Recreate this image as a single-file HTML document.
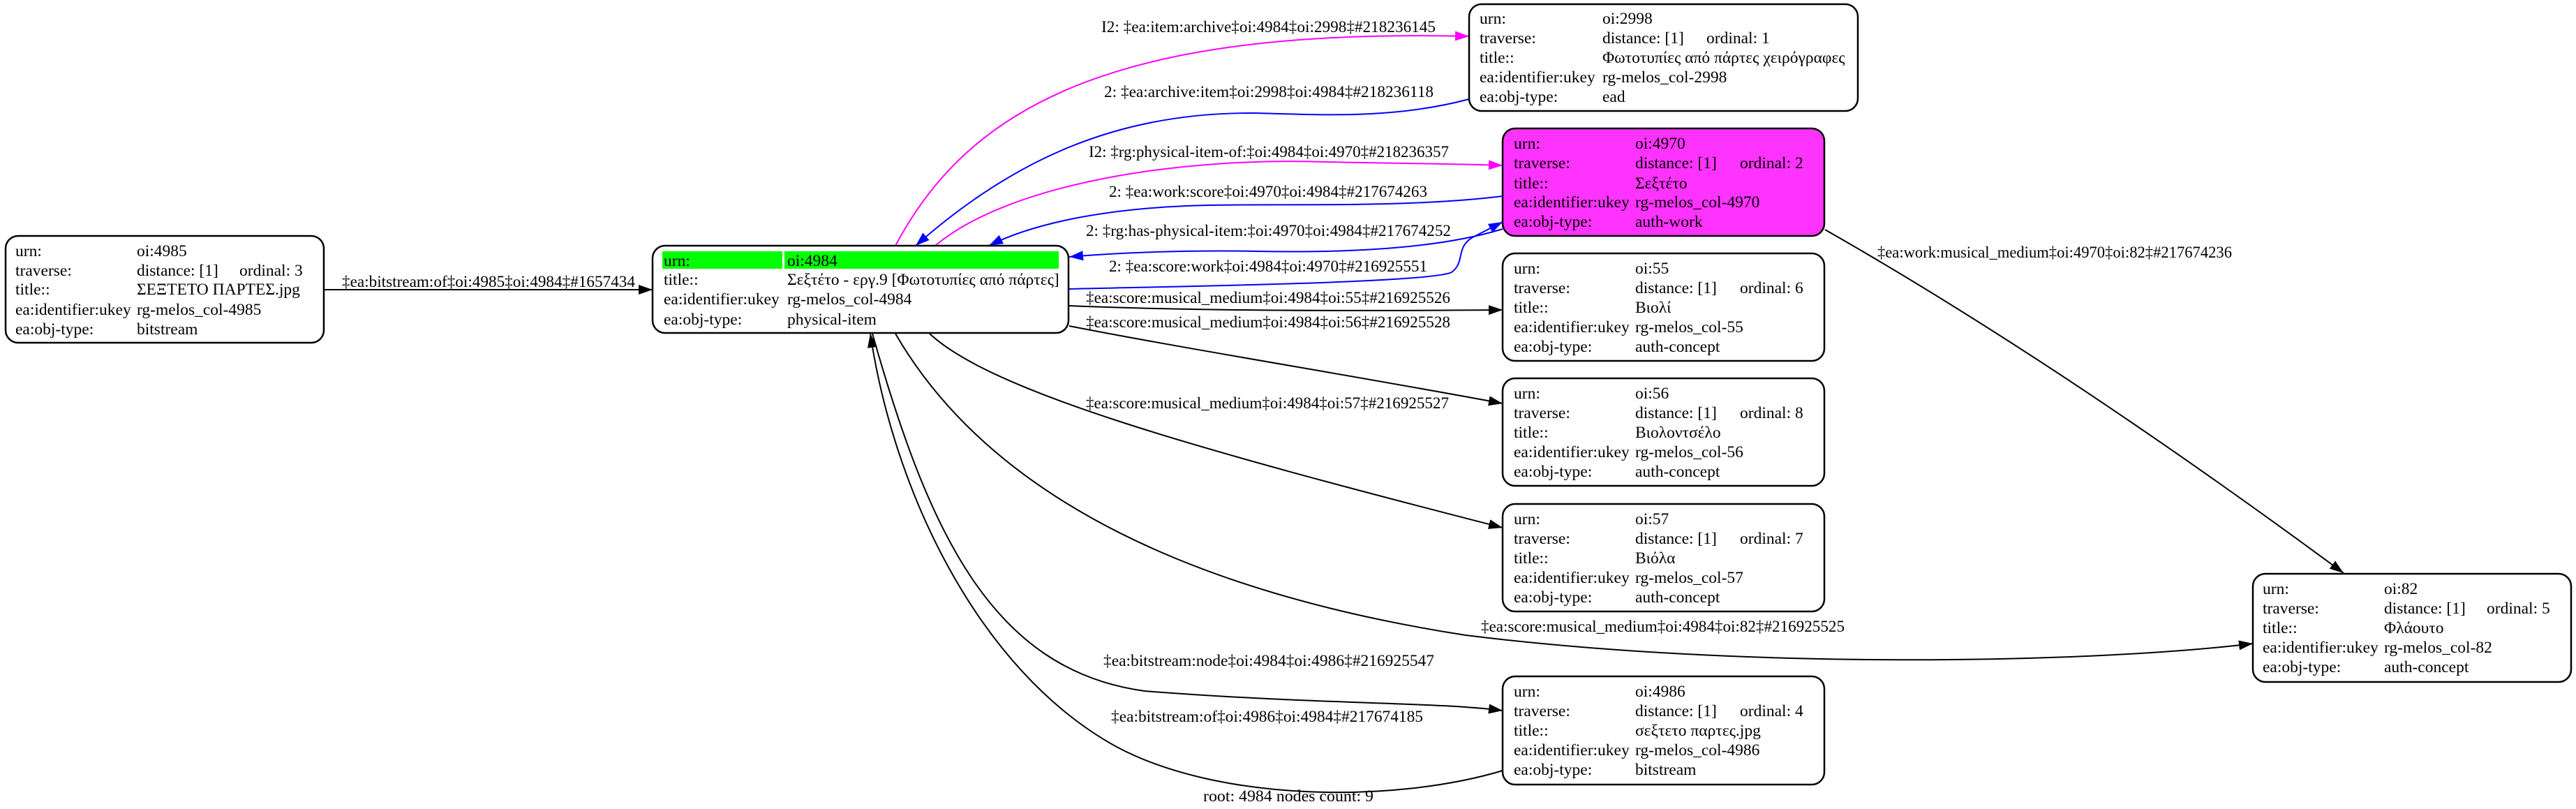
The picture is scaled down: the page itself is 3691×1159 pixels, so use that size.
<!DOCTYPE html>
<html><head><meta charset="utf-8"><style>
html,body{margin:0;padding:0;background:#fff;}
svg{display:block;}
text{font-family:"Liberation Serif","DejaVu Serif",serif;font-size:23.5px;fill:#000;}
.b{fill:#fff;stroke:#000;stroke-width:2.5;}
.e{fill:none;stroke:#000;stroke-width:2;}
.m{fill:none;stroke:#ff00ff;stroke-width:2;}
.u{fill:none;stroke:#0000ff;stroke-width:2;}
</style></head><body>
<svg width="3691" height="1159" viewBox="0 0 3691 1159" xmlns="http://www.w3.org/2000/svg">
<defs>
<marker id="ak" markerUnits="userSpaceOnUse" markerWidth="22" markerHeight="16" refX="20" refY="7" orient="auto"><path d="M0,0 L20,7 L0,14 Z" fill="#000"/></marker>
<marker id="am" markerUnits="userSpaceOnUse" markerWidth="22" markerHeight="16" refX="20" refY="7" orient="auto"><path d="M0,0 L20,7 L0,14 Z" fill="#ff00ff"/></marker>
<marker id="au" markerUnits="userSpaceOnUse" markerWidth="22" markerHeight="16" refX="20" refY="7" orient="auto"><path d="M0,0 L20,7 L0,14 Z" fill="#0000ff"/></marker>
</defs>

<!-- edges -->
<path class="e" d="M464,415 L935,415" marker-end="url(#ak)"/>
<path class="m" d="M1283,352 C1390,150 1600,40 2105,52" marker-end="url(#am)"/>
<path class="u" d="M2105,142 C2000,170 1900,165 1800,162 C1600,160 1450,230 1312,352" marker-end="url(#au)"/>
<path class="m" d="M1340,352 C1450,260 1700,225 1900,232 C2000,234 2100,235 2153,237" marker-end="url(#am)"/>
<path class="u" d="M2153,281 C2000,300 1800,290 1700,295 C1580,300 1480,320 1417,352" marker-end="url(#au)"/>
<path class="u" d="M2153,328 C2050,360 1900,362 1800,360 C1700,358 1600,362 1532,368" marker-end="url(#au)"/>
<path class="u" d="M1532,414 C1700,410 2050,405 2080,390 C2100,375 2085,355 2110,340 L2153,318" marker-end="url(#au)"/>
<path class="e" d="M1532,438 C1700,445 1900,446 2153,444" marker-end="url(#ak)"/>
<path class="e" d="M1532,467 C1700,500 1950,540 2153,578" marker-end="url(#ak)"/>
<path class="e" d="M1332,478 C1420,560 1700,640 2153,756" marker-end="url(#ak)"/>
<path class="e" d="M1283,478 C1400,680 1650,840 2100,910 C2500,960 3000,950 3228,922" marker-end="url(#ak)"/>
<path class="e" d="M1250,478 C1330,760 1420,960 1640,990 C1900,1010 2050,1005 2153,1018" marker-end="url(#ak)"/>
<path class="e" d="M2153,1104 C2000,1150 1750,1150 1600,1070 C1400,960 1280,700 1247,478" marker-end="url(#ak)"/>
<path class="e" d="M2615,329 Q2950,520 3358,821" marker-end="url(#ak)"/>

<!-- edge labels -->
<text x="490" y="411" textLength="420" lengthAdjust="spacingAndGlyphs">‡ea:bitstream:of‡oi:4985‡oi:4984‡#1657434</text>
<text x="1578" y="46" textLength="479" lengthAdjust="spacingAndGlyphs">I2: ‡ea:item:archive‡oi:4984‡oi:2998‡#218236145</text>
<text x="1582" y="139" textLength="472" lengthAdjust="spacingAndGlyphs">2: ‡ea:archive:item‡oi:2998‡oi:4984‡#218236118</text>
<text x="1560" y="225" textLength="516" lengthAdjust="spacingAndGlyphs">I2: ‡rg:physical-item-of:‡oi:4984‡oi:4970‡#218236357</text>
<text x="1589" y="282" textLength="456" lengthAdjust="spacingAndGlyphs">2: ‡ea:work:score‡oi:4970‡oi:4984‡#217674263</text>
<text x="1556" y="338" textLength="523" lengthAdjust="spacingAndGlyphs">2: ‡rg:has-physical-item:‡oi:4970‡oi:4984‡#217674252</text>
<text x="1589" y="389" textLength="456" lengthAdjust="spacingAndGlyphs">2: ‡ea:score:work‡oi:4984‡oi:4970‡#216925551</text>
<text x="1556" y="434" textLength="522" lengthAdjust="spacingAndGlyphs">‡ea:score:musical_medium‡oi:4984‡oi:55‡#216925526</text>
<text x="1556" y="469" textLength="522" lengthAdjust="spacingAndGlyphs">‡ea:score:musical_medium‡oi:4984‡oi:56‡#216925528</text>
<text x="1556" y="585" textLength="520" lengthAdjust="spacingAndGlyphs">‡ea:score:musical_medium‡oi:4984‡oi:57‡#216925527</text>
<text x="2122" y="905" textLength="521" lengthAdjust="spacingAndGlyphs">‡ea:score:musical_medium‡oi:4984‡oi:82‡#216925525</text>
<text x="1581" y="954" textLength="474" lengthAdjust="spacingAndGlyphs">‡ea:bitstream:node‡oi:4984‡oi:4986‡#216925547</text>
<text x="1592" y="1034" textLength="447" lengthAdjust="spacingAndGlyphs">‡ea:bitstream:of‡oi:4986‡oi:4984‡#217674185</text>
<text x="2690" y="369" textLength="508" lengthAdjust="spacingAndGlyphs">‡ea:work:musical_medium‡oi:4970‡oi:82‡#217674236</text>
<text x="1724" y="1148" textLength="244" lengthAdjust="spacingAndGlyphs">root: 4984 nodes count: 9</text>

<!-- node 4985 -->
<g transform="translate(8,338)">
<rect class="b" x="0" y="0" width="456" height="153" rx="18"/>
<text x="14" y="29">urn:</text><text x="188" y="29">oi:4985</text>
<text x="14" y="57">traverse:</text><text x="188" y="57">distance: [1]</text><text x="335" y="57">ordinal: 3</text>
<text x="14" y="84">title::</text><text x="188" y="84">ΣΕΞΤΕΤΟ ΠΑΡΤΕΣ.jpg</text>
<text x="14" y="113">ea:identifier:ukey</text><text x="188" y="113">rg-melos_col-4985</text>
<text x="14" y="141">ea:obj-type:</text><text x="188" y="141">bitstream</text>
</g>

<!-- node 4984 -->
<g transform="translate(935,352)">
<rect class="b" x="0" y="0" width="596" height="125" rx="18"/>
<rect x="14" y="8" width="172" height="25" fill="#00ff00"/>
<rect x="189" y="8" width="393" height="25" fill="#00ff00"/>
<text x="16" y="29">urn:</text><text x="193" y="29">oi:4984</text>
<text x="16" y="56">title::</text><text x="193" y="56">Σεξτέτο - εργ.9 [Φωτοτυπίες από πάρτες]</text>
<text x="16" y="84">ea:identifier:ukey</text><text x="193" y="84">rg-melos_col-4984</text>
<text x="16" y="113">ea:obj-type:</text><text x="193" y="113">physical-item</text>
</g>

<!-- node 2998 -->
<g transform="translate(2105,6)">
<rect class="b" x="0" y="0" width="557" height="153" rx="18"/>
<text x="15" y="28">urn:</text><text x="191" y="28">oi:2998</text>
<text x="15" y="56">traverse:</text><text x="191" y="56">distance: [1]</text><text x="340" y="56">ordinal: 1</text>
<text x="15" y="84">title::</text><text x="191" y="84">Φωτοτυπίες από πάρτες χειρόγραφες</text>
<text x="15" y="112">ea:identifier:ukey</text><text x="191" y="112">rg-melos_col-2998</text>
<text x="15" y="140">ea:obj-type:</text><text x="191" y="140">ead</text>
</g>

<!-- node 4970 -->
<g transform="translate(2153,184)">
<rect class="b" x="0" y="0" width="461" height="154" rx="18" style="fill:#ff33ff"/>
<text x="16" y="29">urn:</text><text x="190" y="29">oi:4970</text>
<text x="16" y="57">traverse:</text><text x="190" y="57">distance: [1]</text><text x="340" y="57">ordinal: 2</text>
<text x="16" y="86">title::</text><text x="190" y="86">Σεξτέτο</text>
<text x="16" y="113">ea:identifier:ukey</text><text x="190" y="113">rg-melos_col-4970</text>
<text x="16" y="141">ea:obj-type:</text><text x="190" y="141">auth-work</text>
</g>

<!-- node 55 -->
<g transform="translate(2153,363)">
<rect class="b" x="0" y="0" width="461" height="154" rx="18"/>
<text x="16" y="29">urn:</text><text x="190" y="29">oi:55</text>
<text x="16" y="57">traverse:</text><text x="190" y="57">distance: [1]</text><text x="340" y="57">ordinal: 6</text>
<text x="16" y="85">title::</text><text x="190" y="85">Βιολί</text>
<text x="16" y="113">ea:identifier:ukey</text><text x="190" y="113">rg-melos_col-55</text>
<text x="16" y="141">ea:obj-type:</text><text x="190" y="141">auth-concept</text>
</g>

<!-- node 56 -->
<g transform="translate(2153,542)">
<rect class="b" x="0" y="0" width="461" height="154" rx="18"/>
<text x="16" y="29">urn:</text><text x="190" y="29">oi:56</text>
<text x="16" y="57">traverse:</text><text x="190" y="57">distance: [1]</text><text x="340" y="57">ordinal: 8</text>
<text x="16" y="85">title::</text><text x="190" y="85">Βιολοντσέλο</text>
<text x="16" y="113">ea:identifier:ukey</text><text x="190" y="113">rg-melos_col-56</text>
<text x="16" y="141">ea:obj-type:</text><text x="190" y="141">auth-concept</text>
</g>

<!-- node 57 -->
<g transform="translate(2153,722)">
<rect class="b" x="0" y="0" width="461" height="154" rx="18"/>
<text x="16" y="29">urn:</text><text x="190" y="29">oi:57</text>
<text x="16" y="57">traverse:</text><text x="190" y="57">distance: [1]</text><text x="340" y="57">ordinal: 7</text>
<text x="16" y="85">title::</text><text x="190" y="85">Βιόλα</text>
<text x="16" y="113">ea:identifier:ukey</text><text x="190" y="113">rg-melos_col-57</text>
<text x="16" y="141">ea:obj-type:</text><text x="190" y="141">auth-concept</text>
</g>

<!-- node 4986 -->
<g transform="translate(2153,969)">
<rect class="b" x="0" y="0" width="461" height="155" rx="18"/>
<text x="16" y="29">urn:</text><text x="190" y="29">oi:4986</text>
<text x="16" y="57">traverse:</text><text x="190" y="57">distance: [1]</text><text x="340" y="57">ordinal: 4</text>
<text x="16" y="85">title::</text><text x="190" y="85">σεξτετο παρτες.jpg</text>
<text x="16" y="113">ea:identifier:ukey</text><text x="190" y="113">rg-melos_col-4986</text>
<text x="16" y="141">ea:obj-type:</text><text x="190" y="141">bitstream</text>
</g>

<!-- node 82 -->
<g transform="translate(3228,822)">
<rect class="b" x="0" y="0" width="456" height="155" rx="18"/>
<text x="14" y="29">urn:</text><text x="188" y="29">oi:82</text>
<text x="14" y="57">traverse:</text><text x="188" y="57">distance: [1]</text><text x="335" y="57">ordinal: 5</text>
<text x="14" y="85">title::</text><text x="188" y="85">Φλάουτο</text>
<text x="14" y="113">ea:identifier:ukey</text><text x="188" y="113">rg-melos_col-82</text>
<text x="14" y="141">ea:obj-type:</text><text x="188" y="141">auth-concept</text>
</g>
</svg>
</body></html>
